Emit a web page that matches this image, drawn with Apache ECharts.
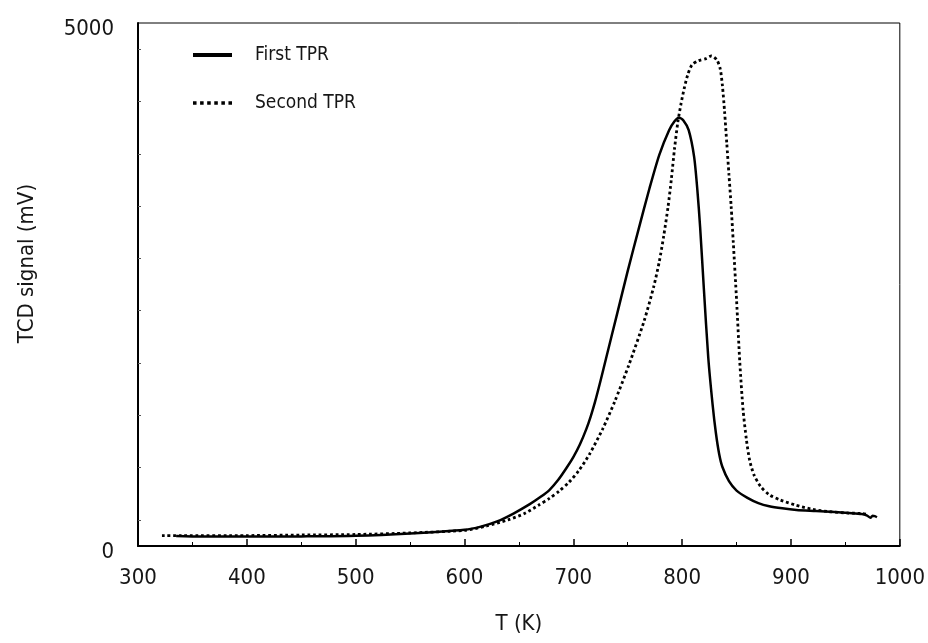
<!DOCTYPE html>
<html>
<head>
<meta charset="utf-8">
<script src="https://cdn.jsdelivr.net/npm/echarts@6/dist/echarts.min.js"></script>
<style>
  html, body { margin: 0; padding: 0; background: #fff; }
  #chart { width: 928px; height: 643px; }
</style>
</head>
<body>
<div id="chart"></div>
<script>
// TPR profiles: temperature (K) and TCD signal (mV)
const firstT = [335, 350, 400, 450, 500, 550, 600, 615, 630, 645, 660, 670, 678, 686, 694, 700, 706, 712, 716, 720, 725, 730, 740, 750, 760, 770, 779, 788, 793, 797, 801, 806, 811, 814, 816.5, 820, 824, 828, 831, 834, 837, 843, 850, 860, 870, 880, 892, 905, 923, 940, 953, 965, 970, 973, 975, 977, 979];
const firstSignal = [95, 92, 90, 92, 98, 120, 155, 185, 235, 310, 400, 470, 535, 630, 750, 850, 970, 1120, 1240, 1380, 1580, 1790, 2210, 2630, 3030, 3420, 3740, 3975, 4060, 4095, 4070, 3975, 3720, 3400, 3050, 2450, 1800, 1350, 1080, 880, 755, 620, 530, 460, 410, 380, 360, 345, 335, 325, 315, 305, 290, 270, 290, 285, 275];

const secondT = [322, 340, 400, 450, 500, 550, 600, 620, 640, 655, 668, 678, 687, 696, 705, 715, 727, 738, 751, 765, 774, 779, 783, 787, 790, 793, 796, 799, 802, 805, 809, 815, 822, 827, 832, 835, 837, 839, 841, 843, 845, 847, 850, 853, 856, 859, 862, 866, 872, 880, 890, 904, 920, 935, 953, 965, 971];
const secondSignal = [100, 100, 100, 105, 110, 125, 150, 190, 250, 310, 390, 455, 525, 610, 720, 880, 1120, 1380, 1730, 2150, 2485, 2720, 2960, 3240, 3500, 3800, 4050, 4230, 4380, 4500, 4600, 4640, 4660, 4685, 4645, 4560, 4400, 4150, 3850, 3550, 3250, 2900, 2350, 1750, 1300, 1020, 820, 680, 570, 490, 440, 392, 350, 328, 315, 310, 300];

const seriesNames = ['First TPR', 'Second TPR'];
const xTickLabels = ['300', '400', '500', '600', '700', '800', '900', '1000'];
const yTickLabels = ['0', '5000'];

const FONT = "'DejaVu Sans Condensed', 'Liberation Sans Narrow', sans-serif";
const INK = '#161616';

const pairs = (xs, ys) => xs.map((x, i) => [x, ys[i]]);

// legend keys: a heavy bar and a row of square dots
const SOLID_KEY = 'path://M0,0 L39,0 L39,4 L0,4 Z';
const DOTTED_KEY = 'path://M0,0h3v3h-3z M6,0h3v3h-3z M12,0h3v3h-3z M18,0h3v3h-3z M24,0h3v3h-3z M30,0h3v3h-3z';

const chart = echarts.init(document.getElementById('chart'), null, { renderer: 'canvas' });

chart.setOption({
  animation: false,
  backgroundColor: '#fff',
  textStyle: { fontFamily: FONT, color: INK },
  grid: {
    left: 138, right: 27, top: 23, bottom: 97,
    show: true, borderColor: '#000', borderWidth: 1, backgroundColor: 'transparent'
  },
  legend: {
    orient: 'vertical',
    left: 193, top: 43,
    padding: 0,
    itemWidth: 39, itemHeight: 24, itemGap: 24,
    selectedMode: false,
    textStyle: { fontFamily: FONT, fontSize: 19, color: INK, padding: [0, 0, 0, 18], lineHeight: 24 },
    data: [
      { name: seriesNames[0], icon: SOLID_KEY, itemStyle: { color: '#000' } },
      { name: seriesNames[1], icon: DOTTED_KEY, itemStyle: { color: '#000' } }
    ]
  },
  xAxis: {
    type: 'value',
    min: 300, max: 1000, interval: 100,
    name: 'T (K)',
    nameLocation: 'middle',
    nameGap: 67,
    nameTextStyle: { fontFamily: FONT, fontSize: 22, color: INK },
    axisLine: { show: true, onZero: false, lineStyle: { color: '#000', width: 2 } },
    axisTick: { show: true, inside: true, length: 7, lineStyle: { color: '#000', width: 1.5 } },
    minorTick: { show: true, splitNumber: 2, length: 4, lineStyle: { color: '#000', width: 1 } },
    splitLine: { show: false },
    axisLabel: {
      margin: 21, fontFamily: FONT, fontSize: 22, color: INK,
      formatter: v => xTickLabels.includes(String(v)) ? String(v) : ''
    }
  },
  yAxis: {
    type: 'value',
    min: 0, max: 5000, interval: 500,
    name: 'TCD signal (mV)',
    nameLocation: 'middle',
    nameRotate: 90,
    nameGap: 100,
    nameTextStyle: { fontFamily: FONT, fontSize: 22, color: INK, padding: [0, 0, 0, 42] },
    axisLine: { show: true, onZero: false, lineStyle: { color: '#000', width: 2 } },
    axisTick: { show: false, inside: true },
    minorTick: { show: true, splitNumber: 2, length: 3, lineStyle: { color: '#555', width: 1 } },
    splitLine: { show: false },
    axisLabel: {
      margin: 24, fontFamily: FONT, fontSize: 22, color: INK,
      verticalAlign: 'top', lineHeight: 12,
      formatter: v => yTickLabels.includes(String(v)) ? String(v) : ''
    }
  },
  series: [
    {
      name: seriesNames[0],
      type: 'line',
      data: pairs(firstT, firstSignal),
      symbol: 'none',
      smooth: 0.25,
      lineStyle: { color: '#000', width: 2.5 },
      itemStyle: { color: '#000' },
      z: 3
    },
    {
      name: seriesNames[1],
      type: 'line',
      data: pairs(secondT, secondSignal),
      symbol: 'none',
      smooth: 0.25,
      lineStyle: { color: '#000', width: 2.8, type: [2.8, 2.8], cap: 'butt' },
      itemStyle: { color: '#000' },
      z: 2
    }
  ]
});
</script>
</body>
</html>
